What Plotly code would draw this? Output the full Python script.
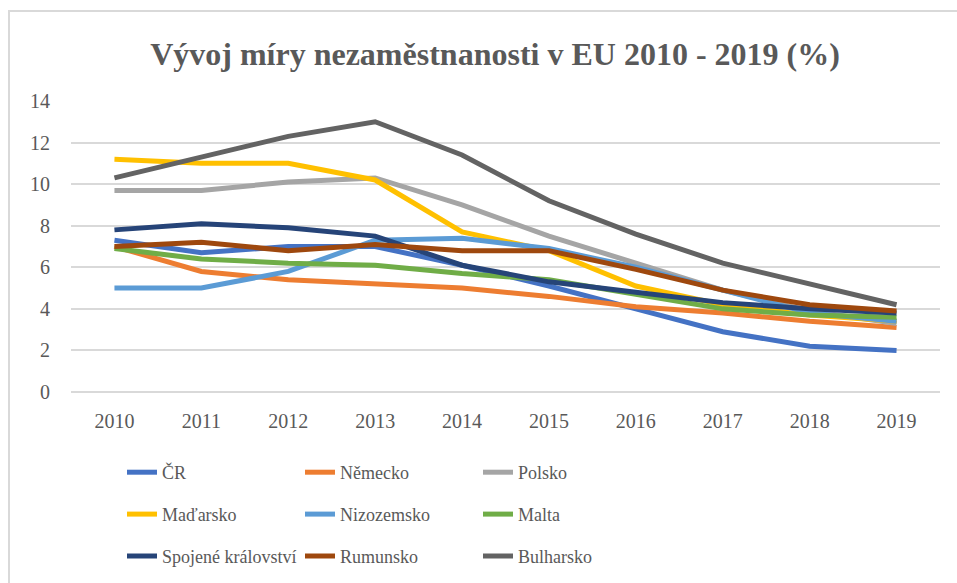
import plotly.graph_objects as go

years = ["2010", "2011", "2012", "2013", "2014", "2015", "2016", "2017", "2018", "2019"]

cr = [7.3, 6.7, 7.0, 7.0, 6.1, 5.1, 4.0, 2.9, 2.2, 2.0]
nemecko = [7.0, 5.8, 5.4, 5.2, 5.0, 4.6, 4.1, 3.8, 3.4, 3.1]
polsko = [9.7, 9.7, 10.1, 10.3, 9.0, 7.5, 6.2, 4.9, 3.9, 3.3]
madarsko = [11.2, 11.0, 11.0, 10.2, 7.7, 6.8, 5.1, 4.2, 3.7, 3.4]
nizozemsko = [5.0, 5.0, 5.8, 7.3, 7.4, 6.9, 6.0, 4.9, 3.8, 3.4]
malta = [6.9, 6.4, 6.2, 6.1, 5.7, 5.4, 4.7, 4.0, 3.7, 3.6]
spojene_kralovstvi = [7.8, 8.1, 7.9, 7.5, 6.1, 5.3, 4.8, 4.3, 4.0, 3.8]
rumunsko = [7.0, 7.2, 6.8, 7.1, 6.8, 6.8, 5.9, 4.9, 4.2, 3.9]
bulharsko = [10.3, 11.3, 12.3, 13.0, 11.4, 9.2, 7.6, 6.2, 5.2, 4.2]

y_ticks = [0, 2, 4, 6, 8, 10, 12, 14]

series = [
    ("ČR", cr, "#4472C4", "legend"),
    ("Německo", nemecko, "#ED7D31", "legend2"),
    ("Polsko", polsko, "#A5A5A5", "legend3"),
    ("Maďarsko", madarsko, "#FFC000", "legend"),
    ("Nizozemsko", nizozemsko, "#5B9BD5", "legend2"),
    ("Malta", malta, "#70AD47", "legend3"),
    ("Spojené království", spojene_kralovstvi, "#264478", "legend"),
    ("Rumunsko", rumunsko, "#9E480E", "legend2"),
    ("Bulharsko", bulharsko, "#636363", "legend3"),
]

FONT = "Liberation Serif, 'Times New Roman', serif"
W, H = 957, 583
L, R, T, B = 71, 17, 101, 191

fig = go.Figure()
for name, vals, color, leg in series:
    fig.add_trace(go.Scatter(
        x=years, y=vals, name=name, mode="lines",
        line=dict(color=color, width=5),
        legend=leg, legendgroup=name,
    ))

def legend_cfg(xpx):
    return dict(
        x=xpx / W, xref="container", xanchor="left",
        y=1 - 454 / H, yref="container", yanchor="top",
        orientation="v", tracegroupgap=15.5,
        font=dict(family=FONT, size=18, color="#595959"),
        bgcolor="rgba(0,0,0,0)", itemwidth=30,
    )

pw = W - L - R
ph = H - T - B

fig.update_layout(
    width=W, height=H,
    font=dict(family=FONT, color="#595959"),
    margin=dict(l=L, r=R, t=T, b=B, autoexpand=False),
    plot_bgcolor="white", paper_bgcolor="white",
    title=dict(
        text="<b>Vývoj míry nezaměstnanosti v EU 2010 - 2019 (%)</b>",
        x=495 / W, xref="container", xanchor="center",
        y=1 - 54 / H, yref="container", yanchor="middle",
        font=dict(family=FONT, size=32, color="#595959"),
    ),
    legend=legend_cfg(122),
    legend2=legend_cfg(300),
    legend3=legend_cfg(478),
    xaxis=dict(
        type="category", range=[-0.5, 9.5],
        showgrid=False, zeroline=False, showline=False,
        tickfont=dict(family=FONT, size=20, color="#595959"),
        ticks="", ticklabelstandoff=15, tickangle=0, automargin=False,
    ),
    yaxis=dict(
        range=[0, 14], tickvals=y_ticks, showgrid=True,
        gridcolor="#D9D9D9", gridwidth=1.5, zeroline=True,
        zerolinecolor="#D9D9D9", zerolinewidth=1.5, showline=False,
        tickfont=dict(family=FONT, size=20, color="#595959"),
        ticks="", ticklabelstandoff=20, automargin=False,
    ),
    showlegend=True,
    shapes=[dict(
        type="rect", xref="paper", yref="paper",
        x0=(9 - L) / pw, x1=(W + 20 - L) / pw,
        y0=(H - B - 11) / ph, y1=(H - B - H - 20) / ph,
        line=dict(color="#D9D9D9", width=2), fillcolor="rgba(0,0,0,0)",
        layer="below",
    )],
)

fig.write_html(
    "out.html",
    config={"displayModeBar": False},
    post_script="document.body.style.margin='0';document.body.style.overflow='hidden';",
)
